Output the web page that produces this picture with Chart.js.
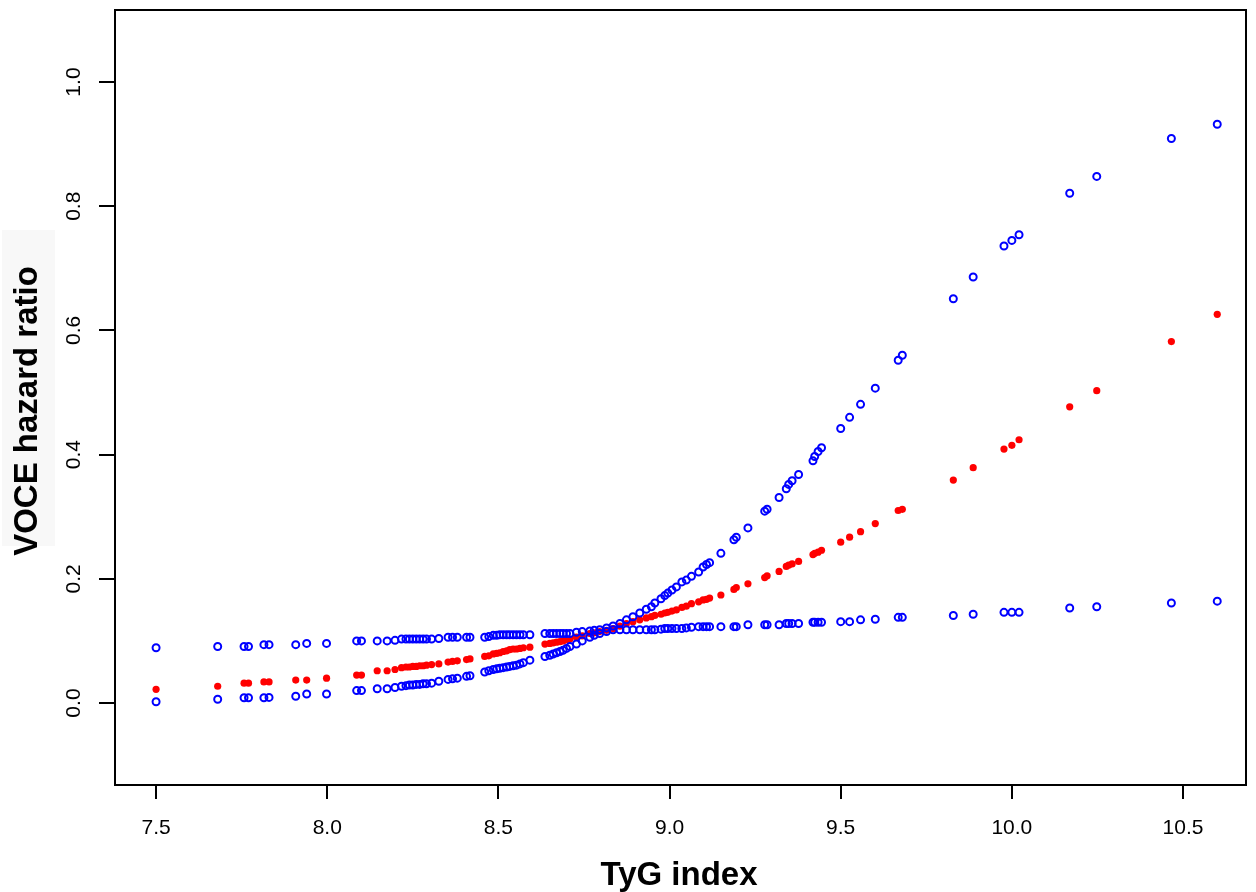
<!DOCTYPE html>
<html>
<head>
<meta charset="utf-8">
<script src="https://cdn.jsdelivr.net/npm/chart.js@4.4.1/dist/chart.umd.min.js"></script>
<style>
  html, body { margin: 0; padding: 0; background: #fff; }
  #wrapper-chart { width: 1256px; height: 892px; }
</style>
</head>
<body>
<div id="wrapper-chart"><canvas id="scatter-chart" width="1256" height="892"></canvas></div>
<script>
const tygIndex = [
  7.50, 7.68, 7.757, 7.77, 7.815, 7.83, 7.908, 7.94, 7.998, 8.086,
  8.10, 8.146, 8.175, 8.198, 8.217, 8.23, 8.24, 8.25, 8.26, 8.27,
  8.28, 8.29, 8.305, 8.326, 8.353, 8.366, 8.38, 8.407, 8.417, 8.46,
  8.472, 8.485, 8.495, 8.504, 8.514, 8.524, 8.533, 8.543, 8.553, 8.563,
  8.573, 8.592, 8.636, 8.650, 8.660, 8.670, 8.680, 8.689, 8.699, 8.709,
  8.728, 8.745, 8.767, 8.78, 8.796, 8.816, 8.835, 8.855, 8.874, 8.893,
  8.913, 8.932, 8.947, 8.957, 8.975, 8.986, 8.995, 9.007, 9.02, 9.036,
  9.049, 9.064, 9.085, 9.098, 9.108, 9.117, 9.15, 9.188, 9.195, 9.229,
  9.278, 9.285, 9.32, 9.341, 9.348, 9.358, 9.377, 9.419, 9.424, 9.434,
  9.444, 9.50, 9.526, 9.558, 9.601, 9.668, 9.68, 9.829, 9.887, 9.977,
  10.0, 10.021, 10.169, 10.248, 10.466, 10.6
];

const hrUpper = [
  0.089, 0.091, 0.091, 0.091, 0.094, 0.094, 0.094, 0.096, 0.096, 0.100,
  0.100, 0.100, 0.100, 0.101, 0.103, 0.103, 0.103, 0.103, 0.103, 0.103,
  0.103, 0.103, 0.103, 0.104, 0.106, 0.106, 0.106, 0.106, 0.106, 0.106,
  0.107, 0.109, 0.109, 0.110, 0.110, 0.110, 0.110, 0.110, 0.110, 0.110,
  0.110, 0.110, 0.112, 0.112, 0.112, 0.112, 0.112, 0.112, 0.112, 0.112,
  0.114, 0.115, 0.116, 0.117, 0.118, 0.121, 0.124, 0.128, 0.134, 0.139,
  0.145, 0.151, 0.155, 0.161, 0.168, 0.173, 0.177, 0.182, 0.187, 0.195,
  0.198, 0.204, 0.211, 0.219, 0.223, 0.226, 0.241, 0.263, 0.267, 0.282,
  0.309, 0.312, 0.331, 0.345, 0.352, 0.358, 0.368, 0.390, 0.397, 0.405,
  0.411, 0.442, 0.460, 0.481, 0.507, 0.552, 0.560, 0.651, 0.686, 0.736,
  0.745, 0.754, 0.821, 0.848, 0.909, 0.932
];

const hrFit = [
  0.022, 0.027, 0.032, 0.032, 0.034, 0.034, 0.037, 0.037, 0.040, 0.045,
  0.045, 0.052, 0.052, 0.054, 0.057, 0.058, 0.058, 0.059, 0.059, 0.060,
  0.060, 0.061, 0.062, 0.063, 0.066, 0.067, 0.068, 0.070, 0.071, 0.075,
  0.076, 0.079, 0.080, 0.081, 0.083, 0.084, 0.086, 0.087, 0.087, 0.088,
  0.089, 0.090, 0.095, 0.096, 0.097, 0.098, 0.099, 0.100, 0.102, 0.103,
  0.106, 0.108, 0.112, 0.113, 0.115, 0.117, 0.120, 0.124, 0.128, 0.131,
  0.134, 0.137, 0.139, 0.141, 0.143, 0.145, 0.146, 0.148, 0.150, 0.154,
  0.156, 0.160, 0.163, 0.166, 0.167, 0.169, 0.174, 0.183, 0.186, 0.192,
  0.202, 0.205, 0.212, 0.220, 0.222, 0.224, 0.228, 0.239, 0.241, 0.243,
  0.246, 0.259, 0.267, 0.276, 0.289, 0.310, 0.312, 0.359, 0.379, 0.409,
  0.415, 0.424, 0.477, 0.503, 0.582, 0.626
];

const hrLower = [
  0.002, 0.006, 0.0085, 0.0085, 0.0085, 0.009, 0.011, 0.0145, 0.0145, 0.020,
  0.020, 0.023, 0.023, 0.025, 0.027, 0.028, 0.029, 0.029, 0.030, 0.030,
  0.031, 0.031, 0.032, 0.035, 0.038, 0.039, 0.040, 0.043, 0.044, 0.050,
  0.052, 0.054, 0.055, 0.056, 0.057, 0.058, 0.059, 0.060, 0.061, 0.063,
  0.065, 0.069, 0.075, 0.077, 0.079, 0.081, 0.083, 0.085, 0.088, 0.091,
  0.095, 0.100, 0.106, 0.109, 0.112, 0.115, 0.118, 0.118, 0.118, 0.118,
  0.118, 0.118, 0.118, 0.118, 0.119, 0.120, 0.120, 0.120, 0.120, 0.120,
  0.121, 0.122, 0.123, 0.123, 0.123, 0.123, 0.123, 0.123, 0.123, 0.126,
  0.126, 0.126, 0.126, 0.128, 0.128, 0.128, 0.128, 0.130, 0.130, 0.130,
  0.130, 0.131, 0.131, 0.134, 0.135, 0.138, 0.138, 0.141, 0.143, 0.146,
  0.146, 0.146, 0.153, 0.155, 0.161, 0.164
];

const xTicks = [7.5, 8.0, 8.5, 9.0, 9.5, 10.0, 10.5];
const yTicks = [0.0, 0.2, 0.4, 0.6, 0.8, 1.0];
const xTitle = "TyG index";
const yTitle = "VOCE hazard ratio";

function toPoints(values) {
  return tygIndex.map((x, i) => ({ x: x, y: values[i] }));
}

// R style box, turned y labels and the two axis titles
const framePlugin = {
  id: "framePlugin",
  beforeDraw(chart) {
    const ctx = chart.ctx;
    ctx.save();
    ctx.fillStyle = "#f8f8f8";
    ctx.fillRect(2, 230, 53, 316);
    ctx.restore();
  },
  afterDraw(chart) {
    const ctx = chart.ctx;
    const area = chart.chartArea;
    const yScale = chart.scales.y;
    ctx.save();
    ctx.strokeStyle = "#000";
    ctx.lineWidth = 2;
    ctx.strokeRect(area.left, area.top, area.right - area.left, area.bottom - area.top);

    ctx.fillStyle = "#000";
    ctx.font = "21px 'Liberation Sans', Arial, sans-serif";
    ctx.textAlign = "center";
    ctx.textBaseline = "middle";
    yTicks.forEach((v) => {
      const py = yScale.getPixelForValue(v);
      ctx.save();
      ctx.translate(74, py);
      ctx.rotate(-Math.PI / 2);
      ctx.fillText(v.toFixed(1), 0, 0);
      ctx.restore();
    });

    ctx.font = "bold 33px 'Liberation Sans', Arial, sans-serif";
    ctx.textBaseline = "alphabetic";
    ctx.fillText(xTitle, 679, 885);
    ctx.save();
    ctx.translate(37, 411);
    ctx.rotate(-Math.PI / 2);
    ctx.fillText(yTitle, 0, 0);
    ctx.restore();
    ctx.restore();
  }
};

const ctxScatter = document.getElementById("scatter-chart").getContext("2d");

new Chart(ctxScatter, {
  type: "scatter",
  data: {
    datasets: [
      {
        label: "upper",
        data: toPoints(hrUpper),
        pointRadius: 3.5,
        borderWidth: 2,
        borderColor: "#0000ff",
        backgroundColor: "rgba(0,0,0,0)",
        order: 1,
      },
      {
        label: "lower",
        data: toPoints(hrLower),
        pointRadius: 3.5,
        borderWidth: 2,
        borderColor: "#0000ff",
        backgroundColor: "rgba(0,0,0,0)",
        order: 1,
      },
      {
        label: "fit",
        data: toPoints(hrFit),
        pointRadius: 3.6,
        borderWidth: 0,
        borderColor: "#ff0000",
        backgroundColor: "#ff0000",
        order: 2,
      },
    ],
  },
  options: {
    responsive: false,
    animation: false,
    devicePixelRatio: 1,
    layout: { padding: { top: 10, right: 10, left: 0, bottom: 0 } },
    plugins: {
      legend: { display: false },
      tooltip: { enabled: false },
    },
    scales: {
      x: {
        type: "linear",
        min: 7.38,
        max: 10.684,
        afterBuildTicks: (axis) => {
          axis.ticks = xTicks.map((v) => ({ value: v }));
        },
        afterFit: (scale) => {
          scale.height = 107;
        },
        border: { display: false },
        grid: {
          drawOnChartArea: false,
          drawTicks: true,
          tickLength: 14,
          color: "#000",
          lineWidth: 2,
        },
        ticks: {
          autoSkip: false,
          maxRotation: 0,
          padding: 17,
          color: "#000",
          font: { family: "'Liberation Sans', Arial, sans-serif", size: 21 },
          callback: (v) => Number(v).toFixed(1),
        },
      },
      y: {
        type: "linear",
        min: -0.132,
        max: 1.116,
        afterBuildTicks: (axis) => {
          axis.ticks = yTicks.map((v) => ({ value: v }));
        },
        afterFit: (scale) => {
          scale.width = 115;
        },
        border: { display: false },
        grid: {
          drawOnChartArea: false,
          drawTicks: true,
          tickLength: 16,
          color: "#000",
          lineWidth: 2,
        },
        ticks: { display: false },
      },
    },
  },
  plugins: [framePlugin],
});
</script>
</body>
</html>
